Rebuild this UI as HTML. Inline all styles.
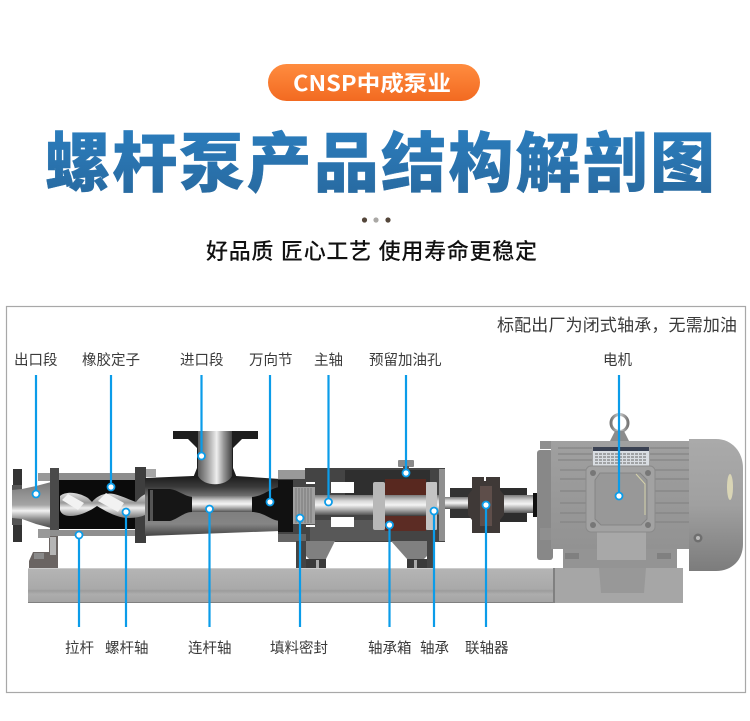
<!DOCTYPE html>
<html><head><meta charset="utf-8">
<style>html,body{margin:0;padding:0;background:#fff}svg{display:block}
text{font-family:"Liberation Sans","Noto Sans CJK SC",sans-serif}</style></head>
<body>
<svg width="750" height="721" viewBox="0 0 750 721" xmlns="http://www.w3.org/2000/svg">
<defs>
<linearGradient id="pill" x1="0" y1="0" x2="0" y2="1"><stop offset="0" stop-color="#ff8c3f"/><stop offset="1" stop-color="#f26a21"/></linearGradient>
<linearGradient id="title" x1="0" y1="0" x2="0" y2="1"><stop offset="0" stop-color="#2b7dbd"/><stop offset="1" stop-color="#28699f"/></linearGradient>
<linearGradient id="shaft" x1="0" y1="0" x2="0" y2="1"><stop offset="0" stop-color="#7a7a7a"/><stop offset=".3" stop-color="#d8d8d8"/><stop offset=".5" stop-color="#f4f4f4"/><stop offset=".75" stop-color="#a8a8a8"/><stop offset="1" stop-color="#555"/></linearGradient>
<linearGradient id="neck" x1="0" y1="0" x2="1" y2="0"><stop offset="0" stop-color="#5a5a5a"/><stop offset=".3" stop-color="#a5a5a5"/><stop offset=".55" stop-color="#eee"/><stop offset=".75" stop-color="#999"/><stop offset="1" stop-color="#444"/></linearGradient>
<linearGradient id="cast" x1="0" y1="0" x2="0" y2="1"><stop offset="0" stop-color="#1c1c1c"/><stop offset=".18" stop-color="#3a3a3a"/><stop offset=".35" stop-color="#777"/><stop offset=".8" stop-color="#858585"/><stop offset="1" stop-color="#444"/></linearGradient>
<linearGradient id="cone" x1="0" y1="0" x2="0" y2="1"><stop offset="0" stop-color="#777"/><stop offset=".5" stop-color="#a5a5a5"/><stop offset=".62" stop-color="#f2f2f2"/><stop offset=".8" stop-color="#888"/><stop offset="1" stop-color="#444"/></linearGradient>
<linearGradient id="base" x1="0" y1="0" x2="0" y2="1"><stop offset="0" stop-color="#b5b5b5"/><stop offset=".6" stop-color="#a9a9a9"/><stop offset=".65" stop-color="#9c9c9c"/><stop offset=".75" stop-color="#adadad"/><stop offset="1" stop-color="#a3a3a3"/></linearGradient>
<linearGradient id="fan" x1="0" y1="0" x2="0" y2="1"><stop offset="0" stop-color="#aaa"/><stop offset=".5" stop-color="#a0a0a0"/><stop offset="1" stop-color="#7c7c7c"/></linearGradient>
<linearGradient id="body" x1="0" y1="0" x2="0" y2="1"><stop offset="0" stop-color="#a0a0a0"/><stop offset="1" stop-color="#929292"/></linearGradient>
<linearGradient id="screw" x1="0" y1="0" x2="0" y2="1"><stop offset="0" stop-color="#ddd"/><stop offset=".4" stop-color="#999"/><stop offset=".6" stop-color="#eee"/><stop offset="1" stop-color="#777"/></linearGradient>
<linearGradient id="ring" x1="0" y1="0" x2="1" y2="0"><stop offset="0" stop-color="#777"/><stop offset=".5" stop-color="#ccc"/><stop offset="1" stop-color="#777"/></linearGradient>
</defs>
<rect width="750" height="721" fill="#fff"/>

<!-- header -->
<rect x="268" y="64" width="212" height="37" rx="18.500" fill="url(#pill)"/>
<text x="293" y="91" font-size="21.500" font-weight="700" fill="#fff" textLength="158" lengthAdjust="spacingAndGlyphs" style='font-family:"Noto Sans CJK SC",sans-serif'>CNSP中成泵业</text>
<text x="45" y="186" font-size="65" font-weight="900" fill="url(#title)" stroke="url(#title)" stroke-width="0.400" textLength="670">螺杆泵产品结构解剖图</text>
<circle cx="364.500" cy="220" r="2.600" fill="#54463a"/><circle cx="376" cy="220" r="2.600" fill="#aaa8a5"/><circle cx="388" cy="220" r="2.600" fill="#54463a"/>
<text x="206" y="259" font-size="22" font-weight="500" fill="#111" textLength="331">好品质 匠心工艺 使用寿命更稳定</text>

<!-- frame -->
<rect x="6.500" y="306.500" width="739" height="386" fill="#fff" stroke="#a8a8a8" stroke-width="1.200"/>
<g fill="#3a3a3a">
<text x="497" y="331" font-size="17" textLength="240">标配出厂为闭式轴承，无需加油</text>
<g font-size="14.500">
<text x="14" y="365">出口段</text><text x="82" y="365">橡胶定子</text><text x="180" y="365">进口段</text><text x="249" y="365">万向节</text><text x="314" y="365">主轴</text><text x="369" y="365">预留加油孔</text><text x="603" y="365">电机</text>
<text x="65" y="653">拉杆</text><text x="105" y="653">螺杆轴</text><text x="188" y="653">连杆轴</text><text x="270" y="653">填料密封</text><text x="368" y="653">轴承箱</text><text x="420" y="653">轴承</text><text x="465" y="653">联轴器</text>
</g></g>

<!-- base rail -->
<rect x="28" y="568" width="527" height="35" fill="url(#base)"/>
<rect x="28" y="568" width="527" height="1" fill="#ccc"/>
<rect x="28" y="602" width="527" height="1" fill="#808080"/>

<!-- left support -->
<path d="M49 536H58V568H29V561L33 552H49Z" fill="#6a6462"/>
<rect x="50" y="537" width="6" height="18" fill="#b5b5b5"/>
<rect x="34" y="553" width="10" height="6" fill="#8a8a8a"/>

<!-- outlet flange & cone -->
<rect x="13" y="469" width="9" height="18" fill="#333"/><rect x="13" y="524" width="9" height="18" fill="#333"/>
<rect x="12" y="485" width="10" height="40" fill="#555"/>
<path d="M12 490L22 489L36 486L55 481V529L36 524L22 519L12 518Z" fill="url(#cone)"/>

<!-- tie rods -->
<rect x="40" y="473" width="100" height="7" fill="#8d8d8d"/><rect x="40" y="530" width="100" height="6" fill="#8f8f8f"/>
<rect x="38" y="473" width="12" height="8" fill="#999"/><rect x="38" y="529" width="12" height="9" fill="#999"/>
<rect x="136" y="469" width="20" height="8" fill="#a5a5a5"/>

<!-- stator -->
<rect x="57" y="480" width="80" height="49" fill="#0b0b0b"/>
<rect x="50" y="468" width="9" height="62" fill="#4a4a4a"/>
<rect x="135" y="467" width="11" height="76" fill="#3e3e3e"/>
<!-- screw -->
<path d="M60 496C66 491 78 492 88 498L92 502C96 497 104 492 114 494C122 496 130 500 136 502C140 497 144 494 147 494V514C140 518 132 518 126 518C116 517 105 511 97 506C90 511 80 516 70 516C65 516 61 514 60 510Z" fill="url(#screw)"/>
<path d="M68 494L84 503L78 510L62 500ZM106 493L124 503L118 512L98 501Z" fill="#f2f2f2"/>

<!-- inlet casing -->
<path d="M145 478L193 476H236L295 480V530L280 531L145 536Z" fill="url(#cast)"/>
<!-- neck -->
<path d="M173 431H258V439H242L236 445L233 448V468L237 478H193L197 468V448L194 445L188 439H173Z" fill="#1e1e1e"/>
<path d="M198 431H232V476C226 487 204 487 198 476Z" fill="url(#neck)"/>
<!-- joints -->
<path d="M148 489H170C178 490 184 496 192 497V512C184 512 178 519 170 521H148Z" fill="#161616"/>
<rect x="150" y="490" width="3" height="31" fill="#555"/>
<path d="M295 487H280C270 488 264 496 252 497V512C264 512 270 520 280 521H295Z" fill="#111"/>
<rect x="192" y="496" width="60" height="16" fill="url(#shaft)"/>

<!-- bearing housing -->
<path d="M278 478H305V468H445V542H278Z" fill="#444"/>
<rect x="278" y="470" width="27" height="9" fill="#999"/>
<rect x="278" y="534" width="28" height="8" fill="#666"/>
<rect x="278" y="480" width="15" height="52" fill="#111"/>
<rect x="345" y="470" width="85" height="30" fill="#2f2f2f"/>
<rect x="310" y="520" width="80" height="21" fill="#585858"/>
<rect x="331" y="482" width="23" height="11" fill="#fff"/>
<rect x="331" y="517" width="23" height="10" fill="#fff"/>
<rect x="306" y="482" width="9" height="2" fill="#fff"/><rect x="306" y="525" width="9" height="2" fill="#fff"/>
<rect x="315" y="495" width="130" height="20" fill="url(#shaft)"/>
<!-- packing -->
<rect x="293" y="487" width="22" height="37" fill="#a0a0a0"/>
<path d="M296 488V523M299 488V523M302 488V523M305 488V523M308 488V523M311 488V523" stroke="#777" stroke-width="1"/>
<!-- red boxes and bearings -->
<rect x="385" y="479" width="41" height="16" fill="#58281f"/>
<rect x="385" y="516" width="41" height="15" fill="#5c2c24"/>
<rect x="373" y="482" width="12" height="48" rx="2" fill="#b8b8b8"/>
<rect x="426" y="482" width="11" height="48" rx="1" fill="#c4c4c4"/>
<rect x="439" y="469" width="6" height="72" fill="#8f8f8f"/>
<!-- oil plug -->
<rect x="398" y="460" width="16" height="7" rx="1" fill="#8a8a8a"/>
<rect x="403" y="466" width="6" height="5" fill="#555"/>
<!-- feet -->
<rect x="296" y="541" width="10" height="27" fill="#444"/>
<rect x="427" y="541" width="7" height="27" fill="#444"/>
<path d="M306 541H335L326 559H309L306 556Z" fill="#808080"/>
<path d="M391 541H427V556L424 559H407Z" fill="#808080"/>
<rect x="306" y="559" width="20" height="9" fill="#3a3a3a"/><rect x="407" y="559" width="20" height="9" fill="#3a3a3a"/>
<rect x="316" y="560" width="3" height="8" fill="#aaa"/><rect x="414" y="560" width="3" height="8" fill="#aaa"/>

<!-- shafts / coupling -->
<rect x="450" y="488" width="25" height="30" fill="#333"/>
<rect x="445" y="497" width="32" height="12" fill="url(#shaft)"/>
<rect x="497" y="488" width="30" height="34" fill="#2d2d2d"/>
<rect x="497" y="495" width="38" height="18" fill="url(#shaft)"/>
<path d="M472 477H484V481H486V477H500V490L504 495V515L500 520V533H472V520L468 515V495L472 490Z" fill="#3f3937"/>
<rect x="480" y="486" width="12" height="40" fill="#5e4e4a"/>
<rect x="533" y="493" width="5" height="24" fill="#111"/>

<!-- motor -->
<rect x="553" y="568" width="130" height="35" fill="#a6a6a6"/>
<rect x="553" y="568" width="2" height="35" fill="#808080"/>
<path d="M599 568H646L644 593H601Z" fill="#989898"/>
<rect x="563" y="548" width="114" height="20" fill="#949494"/>
<rect x="537" y="450" width="16" height="110" rx="3" fill="#888"/>
<rect x="540" y="441" width="13" height="8" fill="#8f8f8f"/>
<rect x="540" y="528" width="13" height="12" fill="#8f8f8f"/>
<rect x="551" y="441" width="138" height="108" fill="url(#body)"/>
<rect x="597" y="532" width="49" height="28" fill="#a8a8a8"/>
<rect x="565" y="553" width="14" height="6" fill="#808080"/><rect x="657" y="553" width="14" height="6" fill="#808080"/>
<g stroke="#858585" stroke-width="1.200">
<path d="M558 448H592M558 454H592M558 460H592M650 448H689M650 454H689M650 460H689"/>
<path d="M560 470H586M560 479H586M560 491H586M560 503H586M560 513H586M560 522H586"/>
<path d="M655 470H689M655 479H689M655 491H689M655 503H689M655 513H689M655 522H689"/>
</g>
<!-- eyebolt -->
<circle cx="619.500" cy="423" r="8.500" fill="none" stroke="url(#ring)" stroke-width="3"/>
<path d="M610 441L615 431H624L629 441Z" fill="#8c8c8c"/>
<!-- nameplate -->
<rect x="593" y="447" width="56" height="19" fill="#d9dde2"/>
<rect x="593" y="447" width="56" height="4" fill="#3a4152"/>
<path d="M595 454H647M595 457H647M595 460H647M595 463H647" stroke="#666" stroke-width="1" stroke-dasharray="3 1"/>
<!-- terminal box -->
<rect x="586" y="466" width="69" height="66" rx="5" fill="#a2a2a2" stroke="#8a8a8a"/>
<path d="M600 473H640L647 480V519L641 525H601L595 519V480Z" fill="#989898" stroke="#858585"/>
<path d="M636 474L645 484V515" fill="none" stroke="#d5d2aa" stroke-width="1"/>
<circle cx="593" cy="473" r="3" fill="#777"/><circle cx="648" cy="473" r="3" fill="#777"/><circle cx="593" cy="525" r="3" fill="#777"/><circle cx="648" cy="525" r="3" fill="#777"/>
<!-- fan cover -->
<path d="M689 439H716C732 439 743 452 743 468V544C743 560 732 571 716 571H689Z" fill="url(#fan)"/>
<ellipse cx="730" cy="487" rx="3" ry="13" fill="#d9d5b5"/>
<circle cx="698" cy="538" r="4.500" fill="#6f6f6f"/><circle cx="698" cy="538" r="2" fill="#bbb"/>

<!-- callouts -->
<g stroke="#0b9ce9" stroke-width="2.200" fill="none">
<path d="M36 375V494M111 375V487M201.500 375V456M270 375V502M328.500 375V502M406 375V473M619 375V496"/>
<path d="M79 535V627M126 512V627M209.500 509V627M300 518V627M389.500 525V627M434 511V627M486 505V627"/>
</g>
<g fill="#fff" stroke="#0b9ce9" stroke-width="1.800">
<circle cx="36" cy="494" r="3.500"/><circle cx="111" cy="487" r="3.500"/><circle cx="201.500" cy="456" r="3.500"/><circle cx="270" cy="502" r="3.500"/><circle cx="328.500" cy="502" r="3.500"/><circle cx="406" cy="473" r="3.500"/><circle cx="619" cy="496" r="3.500"/>
<circle cx="79" cy="535" r="3.500"/><circle cx="126" cy="512" r="3.500"/><circle cx="209.500" cy="509" r="3.500"/><circle cx="300" cy="518" r="3.500"/><circle cx="389.500" cy="525" r="3.500"/><circle cx="434" cy="511" r="3.500"/><circle cx="486" cy="505" r="3.500"/>
</g>
</svg>
</body></html>
